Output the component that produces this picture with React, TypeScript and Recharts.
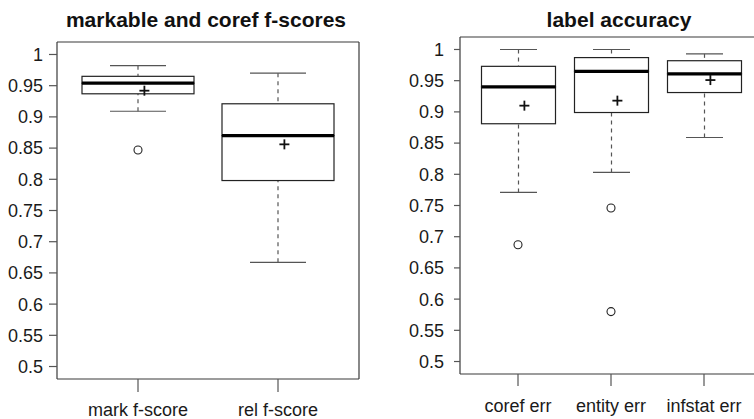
import { ComposedChart, Bar, Scatter, XAxis, YAxis } from "recharts";

// left panel: markable and coref f-scores
const fCats = ["mark f-score", "rel f-score"];
const fLow = [0.909, 0.667];
const fQ1 = [0.937, 0.798];
const fMedian = [0.954, 0.87];
const fQ3 = [0.965, 0.921];
const fHigh = [0.982, 0.97];
const fMean = [0.942, 0.856];
const fOutliers: number[][] = [[0.847], []];

// right panel: label accuracy
const accCats = ["coref err", "entity err", "infstat err"];
const accLow = [0.771, 0.803, 0.859];
const accQ1 = [0.881, 0.899, 0.931];
const accMedian = [0.94, 0.965, 0.961];
const accQ3 = [0.973, 0.987, 0.982];
const accHigh = [1.0, 1.0, 0.993];
const accMean = [0.91, 0.918, 0.951];
const accOutliers: number[][] = [[0.687], [0.746, 0.58], []];

const yTicks = [0.5, 0.55, 0.6, 0.65, 0.7, 0.75, 0.8, 0.85, 0.9, 0.95, 1];
const yDomain = [0.48, 1.02];

const FONT = "'Liberation Sans', Arial, Helvetica, sans-serif";
const FRAME = "#3a3a3a";
const TICK = "#555";
const TEXT = "#1a1a1a";

function buildRows(
  cats: string[],
  low: number[],
  q1: number[],
  med: number[],
  q3: number[],
  high: number[],
  mean: number[],
  outliers: number[][]
) {
  return cats.map((name, i) => ({
    name,
    base: low[i],
    lowWhisker: q1[i] - low[i],
    lowBox: med[i] - q1[i],
    highBox: q3[i] - med[i],
    highWhisker: high[i] - q3[i],
    mean: mean[i],
    out0: outliers[i][0],
    out1: outliers[i][1],
  }));
}

const fRows = buildRows(fCats, fLow, fQ1, fMedian, fQ3, fHigh, fMean, fOutliers);
const accRows = buildRows(accCats, accLow, accQ1, accMedian, accQ3, accHigh, accMean, accOutliers);

const Empty = () => <g />;

function LowWhisker(p: any) {
  const cx = p.x + p.width / 2;
  const bottom = p.y + p.height;
  return (
    <g>
      <line x1={cx} x2={cx} y1={bottom} y2={p.y} stroke={TICK} strokeWidth={1.2} strokeDasharray="4 4" />
      <line x1={cx - p.width / 4} x2={cx + p.width / 4} y1={bottom} y2={bottom} stroke={TICK} strokeWidth={1.2} />
    </g>
  );
}

function HighWhisker(p: any) {
  const cx = p.x + p.width / 2;
  return (
    <g>
      <line x1={cx} x2={cx} y1={p.y} y2={p.y + p.height} stroke={TICK} strokeWidth={1.2} strokeDasharray="4 4" />
      <line x1={cx - p.width / 4} x2={cx + p.width / 4} y1={p.y} y2={p.y} stroke={TICK} strokeWidth={1.2} />
    </g>
  );
}

function LowBox(p: any) {
  return <rect x={p.x} y={p.y} width={p.width} height={p.height} fill="#fff" stroke="#222" strokeWidth={1.2} />;
}

function HighBox(p: any) {
  const bottom = p.y + p.height;
  return (
    <g>
      <rect x={p.x} y={p.y} width={p.width} height={p.height} fill="#fff" stroke="#222" strokeWidth={1.2} />
      <line x1={p.x} x2={p.x + p.width} y1={bottom} y2={bottom} stroke="#000" strokeWidth={3.2} />
    </g>
  );
}

function MeanMark(p: any) {
  if (!Number.isFinite(p.cx) || !Number.isFinite(p.cy)) return <g />;
  const x = p.cx + 6.4;
  return (
    <g>
      <line x1={x - 5} x2={x + 5} y1={p.cy} y2={p.cy} stroke="#111" strokeWidth={1.8} />
      <line x1={x} x2={x} y1={p.cy - 5} y2={p.cy + 5} stroke="#111" strokeWidth={1.8} />
    </g>
  );
}

function outlierShape(key: string) {
  return (p: any) => {
    if (p.payload == null || p.payload[key] == null || !Number.isFinite(p.cy)) return <g />;
    return <circle cx={p.cx} cy={p.cy} r={4} fill="none" stroke="#222" strokeWidth={1.1} />;
  };
}

interface PanelProps {
  rows: ReturnType<typeof buildRows>;
  width: number;
  height: number;
  margin: { top: number; right: number; bottom: number; left: number };
  yWidth: number;
  xPad: number;
  barSize: number;
  yTickSize: number;
  yTickMargin: number;
  xTickSize: number;
  xTickMargin: number;
}

function BoxPanel(props: PanelProps) {
  const { rows, width, height, margin, yWidth, xPad, barSize } = props;
  const tickStyle = { fontSize: 18, fill: TEXT, fontFamily: FONT };
  return (
    <ComposedChart width={width} height={height} data={rows} margin={margin} barSize={barSize}>
      <XAxis
        dataKey="name"
        type="category"
        interval={0}
        height={30}
        padding={{ left: xPad, right: xPad }}
        tick={tickStyle}
        tickSize={props.xTickSize}
        tickMargin={props.xTickMargin}
        tickLine={{ stroke: TICK, strokeWidth: 1.2 }}
        axisLine={{ stroke: FRAME, strokeWidth: 1.2 }}
      />
      {/* top and right axes only draw the frame */}
      <XAxis
        xAxisId="top"
        dataKey="name"
        orientation="top"
        height={1}
        tick={false}
        tickLine={false}
        axisLine={{ stroke: FRAME, strokeWidth: 1.2 }}
      />
      <YAxis
        type="number"
        domain={yDomain}
        allowDataOverflow
        ticks={yTicks}
        interval={0}
        width={yWidth}
        tickFormatter={(v: number) => String(v)}
        tick={tickStyle}
        tickSize={props.yTickSize}
        tickMargin={props.yTickMargin}
        tickLine={{ stroke: TICK, strokeWidth: 1.2 }}
        axisLine={{ stroke: FRAME, strokeWidth: 1.2 }}
      />
      <YAxis
        yAxisId="right"
        orientation="right"
        type="number"
        domain={[0, 1]}
        width={1}
        tick={false}
        tickLine={false}
        axisLine={{ stroke: FRAME, strokeWidth: 1.2 }}
      />
      <Bar dataKey="base" stackId="box" shape={Empty} isAnimationActive={false} />
      <Bar dataKey="lowWhisker" stackId="box" shape={LowWhisker} isAnimationActive={false} />
      <Bar dataKey="lowBox" stackId="box" shape={LowBox} isAnimationActive={false} />
      <Bar dataKey="highBox" stackId="box" shape={HighBox} isAnimationActive={false} />
      <Bar dataKey="highWhisker" stackId="box" shape={HighWhisker} isAnimationActive={false} />
      <Scatter dataKey="mean" shape={MeanMark} isAnimationActive={false} />
      <Scatter dataKey="out0" shape={outlierShape("out0")} isAnimationActive={false} />
      <Scatter dataKey="out1" shape={outlierShape("out1")} isAnimationActive={false} />
    </ComposedChart>
  );
}

export default function App() {
  return (
    <div
      style={{
        position: "absolute",
        left: 0,
        top: 0,
        width: 754,
        height: 419,
        overflow: "hidden",
        background: "#fff",
        fontFamily: FONT,
      }}
    >
      <div style={{ position: "absolute", left: 0, top: 0 }}>
        <BoxPanel
          rows={fRows}
          width={377}
          height={419}
          margin={{ top: 41, right: 17, bottom: 10, left: 0 }}
          yWidth={57}
          xPad={11}
          barSize={112}
          yTickSize={8}
          yTickMargin={6}
          xTickSize={13}
          xTickMargin={11}
        />
      </div>
      <div style={{ position: "absolute", left: 377, top: 0 }}>
        <BoxPanel
          rows={accRows}
          width={400}
          height={419}
          margin={{ top: 36, right: 14, bottom: 15, left: 0 }}
          yWidth={83}
          xPad={11.5}
          barSize={74}
          yTickSize={6}
          yTickMargin={10}
          xTickSize={12}
          xTickMargin={13}
        />
      </div>
      <svg width={754} height={34} style={{ position: "absolute", left: 0, top: 0 }}>
        <text x={206} y={26.5} textAnchor="middle" fontSize={21} fontWeight="bold" fill="#111" fontFamily={FONT}>
          markable and coref f-scores
        </text>
        <text x={619} y={26.5} textAnchor="middle" fontSize={21} fontWeight="bold" fill="#111" fontFamily={FONT}>
          label accuracy
        </text>
      </svg>
    </div>
  );
}
